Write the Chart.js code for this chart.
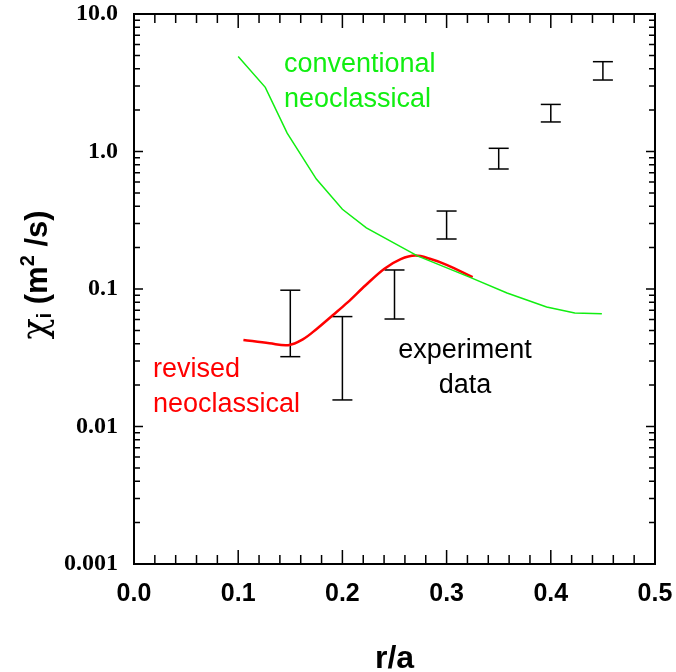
<!DOCTYPE html>
<html>
<head>
<meta charset="utf-8">
<script src="https://cdn.jsdelivr.net/npm/chart.js@4/dist/chart.umd.min.js"></script>
<style>
  body { margin: 0; background: #fff; }
  #wrap { width: 676px; height: 672px; }
</style>
</head>
<body>
<div id="wrap"><canvas id="chi-chart" width="676" height="672"></canvas></div>
<script>
// axis ticks
const xTickValues = [0, 0.1, 0.2, 0.3, 0.4, 0.5];
const xTickLabels = ['0.0', '0.1', '0.2', '0.3', '0.4', '0.5'];
const yTickValues = [0.001, 0.01, 0.1, 1, 10];
const yTickLabels = ['0.001', '0.01', '0.1', '1.0', '10.0'];

// conventional neoclassical (green)
const convR   = [0.100, 0.126, 0.147, 0.175, 0.200, 0.223, 0.272, 0.322, 0.358, 0.396, 0.423, 0.449];
const convChi = [4.90, 2.93, 1.36, 0.63, 0.38, 0.278, 0.174, 0.122, 0.0935, 0.074, 0.0668, 0.066];

// revised neoclassical (red)
const revR   = [0.105, 0.130, 0.148, 0.162, 0.175, 0.191, 0.205, 0.222, 0.240, 0.256, 0.270, 0.284, 0.300, 0.325];
const revChi = [0.0426, 0.0403, 0.0390, 0.0430, 0.051, 0.0647, 0.080, 0.106, 0.140, 0.165, 0.175, 0.166, 0.150, 0.122];

// experiment data error bars
const expR    = [0.15, 0.20, 0.25, 0.30, 0.35, 0.40, 0.45];
const expLow  = [0.0322, 0.0156, 0.0605, 0.231, 0.746, 1.64, 3.31];
const expHigh = [0.098, 0.063, 0.1375, 0.369, 1.055, 2.20, 4.50];

function toPoints(xs, ys) {
    return xs.map(function(x, i) { return { x: x, y: ys[i] }; });
}

// each bar is low -> high, then a gap
const expPoints = [];
expR.forEach(function(r, i) {
    expPoints.push({ x: r, y: expLow[i] });
    expPoints.push({ x: r, y: expHigh[i] });
    expPoints.push({ x: r, y: null });
});

const frameAndLabels = {
    id: 'frameAndLabels',
    afterDraw: function(chart) {
        const ctx = chart.ctx;
        const area = chart.chartArea;
        const xs = chart.scales.x;
        const ys = chart.scales.y;

        ctx.save();
        ctx.strokeStyle = '#000';
        ctx.lineWidth = 1.5;

        // inward tick marks on all four sides
        ctx.beginPath();
        for (let i = 0; i <= 25; i++) {
            const px = xs.getPixelForValue(i * 0.02);
            const len = (i % 5 === 0) ? 14 : 9;
            ctx.moveTo(px, area.bottom);
            ctx.lineTo(px, area.bottom - len);
            ctx.moveTo(px, area.top);
            ctx.lineTo(px, area.top + len);
        }
        for (let d = -3; d <= 1; d++) {
            for (let m = 1; m <= 9; m++) {
                if (d === 1 && m > 1) break;
                const py = ys.getPixelForValue(m * Math.pow(10, d));
                const len = (m === 1) ? 9 : 6;
                ctx.moveTo(area.left, py);
                ctx.lineTo(area.left + len, py);
                ctx.moveTo(area.right, py);
                ctx.lineTo(area.right - len, py);
            }
        }
        ctx.stroke();

        ctx.lineWidth = 2;
        ctx.strokeRect(area.left, area.top, area.right - area.left, area.bottom - area.top);

        // annotations
        ctx.font = '27px "Liberation Sans", Arial, sans-serif';
        ctx.textBaseline = 'alphabetic';
        ctx.textAlign = 'left';
        ctx.fillStyle = '#11ee11';
        ctx.fillText('conventional', 284, 72);
        ctx.fillText('neoclassical', 284, 107);
        ctx.fillStyle = '#ff0000';
        ctx.fillText('revised', 153, 377);
        ctx.fillText('neoclassical', 153, 412);
        ctx.fillStyle = '#000';
        ctx.textAlign = 'center';
        ctx.fillText('experiment', 465, 358);
        ctx.fillText('data', 465, 393);

        // y axis title: chi_i (m^2/s)
        const parts = [
            { t: '\u03C7', font: '35px "DejaVu Serif", "Liberation Serif", serif', dy: 0 },
            { t: 'i', font: 'bold 20px "Liberation Sans", Arial, sans-serif', dy: 4 },
            { t: ' (m', font: 'bold 31px "Liberation Sans", Arial, sans-serif', dy: 0 },
            { t: '2', font: 'bold 20px "Liberation Sans", Arial, sans-serif', dy: -13 },
            { t: ' /s)', font: 'bold 31px "Liberation Sans", Arial, sans-serif', dy: 0 }
        ];
        let total = 0;
        parts.forEach(function(p) {
            ctx.font = p.font;
            p.w = ctx.measureText(p.t).width;
            total += p.w;
        });
        ctx.translate(47, (area.top + area.bottom) / 2 - 14);
        ctx.rotate(-Math.PI / 2);
        ctx.textAlign = 'left';
        let cx = -total / 2;
        parts.forEach(function(p) {
            ctx.font = p.font;
            ctx.fillText(p.t, cx, p.dy);
            cx += p.w;
        });
        ctx.restore();
    }
};

new Chart(document.getElementById('chi-chart'), {
    type: 'scatter',
    data: {
        datasets: [
            {
                label: 'conventional neoclassical',
                data: toPoints(convR, convChi),
                showLine: true,
                borderColor: '#11ee11',
                borderWidth: 1.5,
                pointRadius: 0,
                tension: 0
            },
            {
                label: 'revised neoclassical',
                data: toPoints(revR, revChi),
                showLine: true,
                borderColor: '#ff0000',
                borderWidth: 2.5,
                pointRadius: 0,
                tension: 0.35
            },
            {
                label: 'experiment data',
                data: expPoints,
                showLine: true,
                spanGaps: false,
                borderColor: '#000',
                borderWidth: 1.5,
                pointStyle: 'line',
                pointRadius: 10,
                pointBorderColor: '#000',
                pointBorderWidth: 1.5
            }
        ]
    },
    options: {
        responsive: false,
        animation: false,
        layout: { padding: { top: 14, right: 21, left: 0, bottom: 0 } },
        plugins: {
            legend: { display: false },
            tooltip: { enabled: false }
        },
        scales: {
            x: {
                type: 'linear',
                min: 0,
                max: 0.5,
                grid: { display: false, drawTicks: false },
                border: { display: false },
                afterBuildTicks: function(scale) {
                    scale.ticks = xTickValues.map(function(v) { return { value: v }; });
                },
                afterFit: function(scale) {
                    scale.height = 108;
                    scale.paddingLeft = 0;
                    scale.paddingRight = 0;
                },
                ticks: {
                    color: '#000',
                    padding: 15,
                    maxRotation: 0,
                    font: { family: '"Liberation Sans", Arial, sans-serif', size: 25, weight: 'bold' },
                    callback: function(v, i) { return xTickLabels[i]; }
                },
                title: {
                    display: true,
                    text: 'r/a',
                    color: '#000',
                    padding: { top: 0, bottom: -6 },
                    font: { family: '"Liberation Sans", Arial, sans-serif', size: 32, weight: 'bold' }
                }
            },
            y: {
                type: 'logarithmic',
                min: 0.001,
                max: 10,
                grid: { display: false, drawTicks: false },
                border: { display: false },
                afterBuildTicks: function(scale) {
                    scale.ticks = yTickValues.map(function(v) { return { value: v }; });
                },
                afterFit: function(scale) {
                    scale.width = 134;
                    scale.paddingTop = 0;
                    scale.paddingBottom = 0;
                },
                ticks: {
                    color: '#000',
                    padding: 16,
                    font: { family: '"Liberation Serif", "Times New Roman", serif', size: 24, weight: 'bold' },
                    callback: function(v, i) { return yTickLabels[i]; }
                }
            }
        }
    },
    plugins: [frameAndLabels]
});
</script>
</body>
</html>
